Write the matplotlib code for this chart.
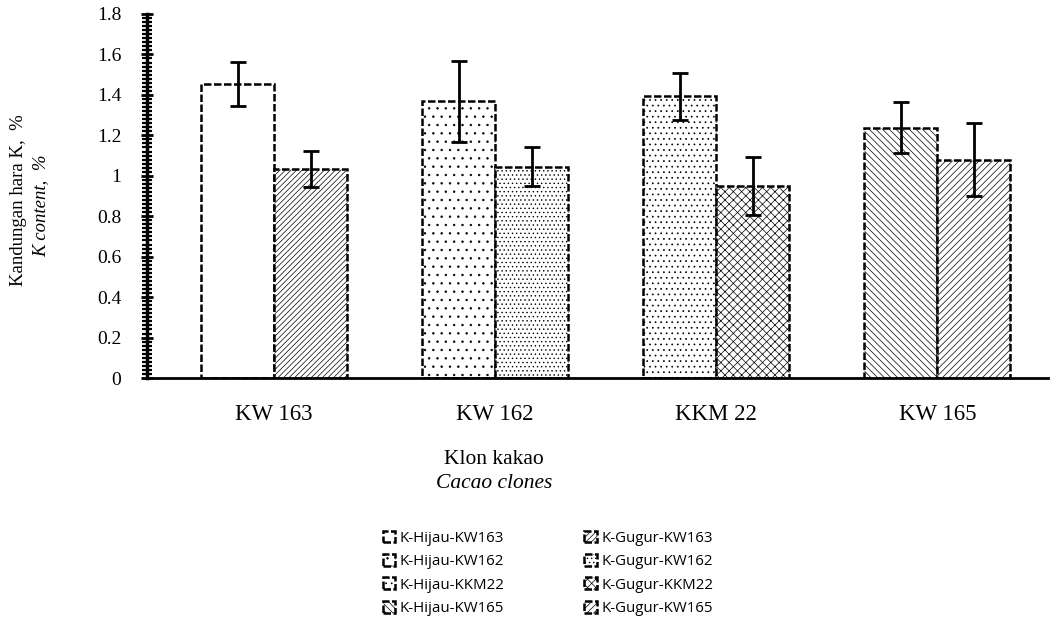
import matplotlib.pyplot as plt
import numpy as np
from matplotlib.ticker import MultipleLocator, FuncFormatter

# ---------------- DATA ----------------
clones = ["KW 163", "KW 162", "KKM 22", "KW 165"]
hijau = [1.455, 1.368, 1.393, 1.238]
hijau_err = [0.11, 0.20, 0.115, 0.125]
gugur = [1.035, 1.045, 0.950, 1.080]
gugur_err = [0.09, 0.095, 0.145, 0.18]
hijau_names = ["K-Hijau-KW163", "K-Hijau-KW162", "K-Hijau-KKM22", "K-Hijau-KW165"]
gugur_names = ["K-Gugur-KW163", "K-Gugur-KW162", "K-Gugur-KKM22", "K-Gugur-KW165"]

hijau_hatch = ["", "..", "...", "\\\\\\\\\\"]
gugur_hatch = ["//////", "....", "xxxx", "/////"]

plt.rcParams['hatch.linewidth'] = 0.5
plt.rcParams['font.family'] = ["Liberation Serif", "DejaVu Serif"]

fig = plt.figure(figsize=(10.53, 6.43), dpi=100)
ax = fig.add_axes([147 / 1053, 1 - 378 / 643, (1048 - 147) / 1053, (378 - 14) / 643])

x = np.arange(len(clones))
w = 0.33
bar_style = dict(facecolor="white", edgecolor="black", linewidth=1.8, linestyle=(0, (3, 1)))
err_style = dict(ecolor="black", elinewidth=2, capsize=6, capthick=2)

h_bars = []
g_bars = []
for i in range(len(clones)):
    hb = ax.bar(x[i] - w / 2, hijau[i], w, hatch=hijau_hatch[i], label=hijau_names[i], **bar_style)
    h_bars.append(hb)
for i in range(len(clones)):
    gb = ax.bar(x[i] + w / 2, gugur[i], w, hatch=gugur_hatch[i], label=gugur_names[i], **bar_style)
    g_bars.append(gb)
ax.errorbar(x - w / 2, hijau, yerr=hijau_err, fmt="none", zorder=5, **err_style)
ax.errorbar(x + w / 2, gugur, yerr=gugur_err, fmt="none", zorder=5, **err_style)

ax.set_xlim(-0.575, 3.5)
ax.set_ylim(0, 1.8)
ax.set_xticks(x)
ax.set_xticklabels(clones, fontsize=16.5)
ax.tick_params(axis="x", length=0, pad=19)
ax.yaxis.set_major_locator(MultipleLocator(0.2))
ax.yaxis.set_minor_locator(MultipleLocator(0.02))
ax.yaxis.set_major_formatter(FuncFormatter(lambda v, p: f"{v:g}"))
ax.tick_params(axis="y", which="major", direction="inout", length=9, width=2, labelsize=14, pad=14)
ax.tick_params(axis="y", which="minor", direction="inout", length=7, width=1.6)

for s in ["top", "right"]:
    ax.spines[s].set_visible(False)
ax.spines["left"].set_linewidth(2.5)
ax.spines["bottom"].set_linewidth(2)

# axis titles
fig.text(19 / 1053, 1 - 200 / 643, "Kandungan hara K,  %", rotation=90, ha="center", va="center",
         fontsize=13.5)
fig.text(41 / 1053, 1 - 206 / 643, "K content,  %", rotation=90, ha="center", va="center",
         fontsize=13.5, style="italic")
fig.text(494 / 1053, 1 - 459 / 643, "Klon kakao", ha="center", va="center", fontsize=15.5)
fig.text(494 / 1053, 1 - 483 / 643, "Cacao clones", ha="center", va="center", fontsize=15.5,
         style="italic")

handles = [b[0] for b in h_bars] + [b[0] for b in g_bars]
labels = hijau_names + gugur_names
leg = fig.legend(handles, labels, loc="upper left", bbox_to_anchor=(375 / 1053, 1 - 523 / 643),
                 ncol=2, frameon=False, handlelength=0.85, handleheight=0.85, handletextpad=0.3,
                 columnspacing=5.3, labelspacing=0.55, borderpad=0,
                 prop={"family": "Open Sans", "size": 10.8})

fig.savefig("out.png", dpi=100)
